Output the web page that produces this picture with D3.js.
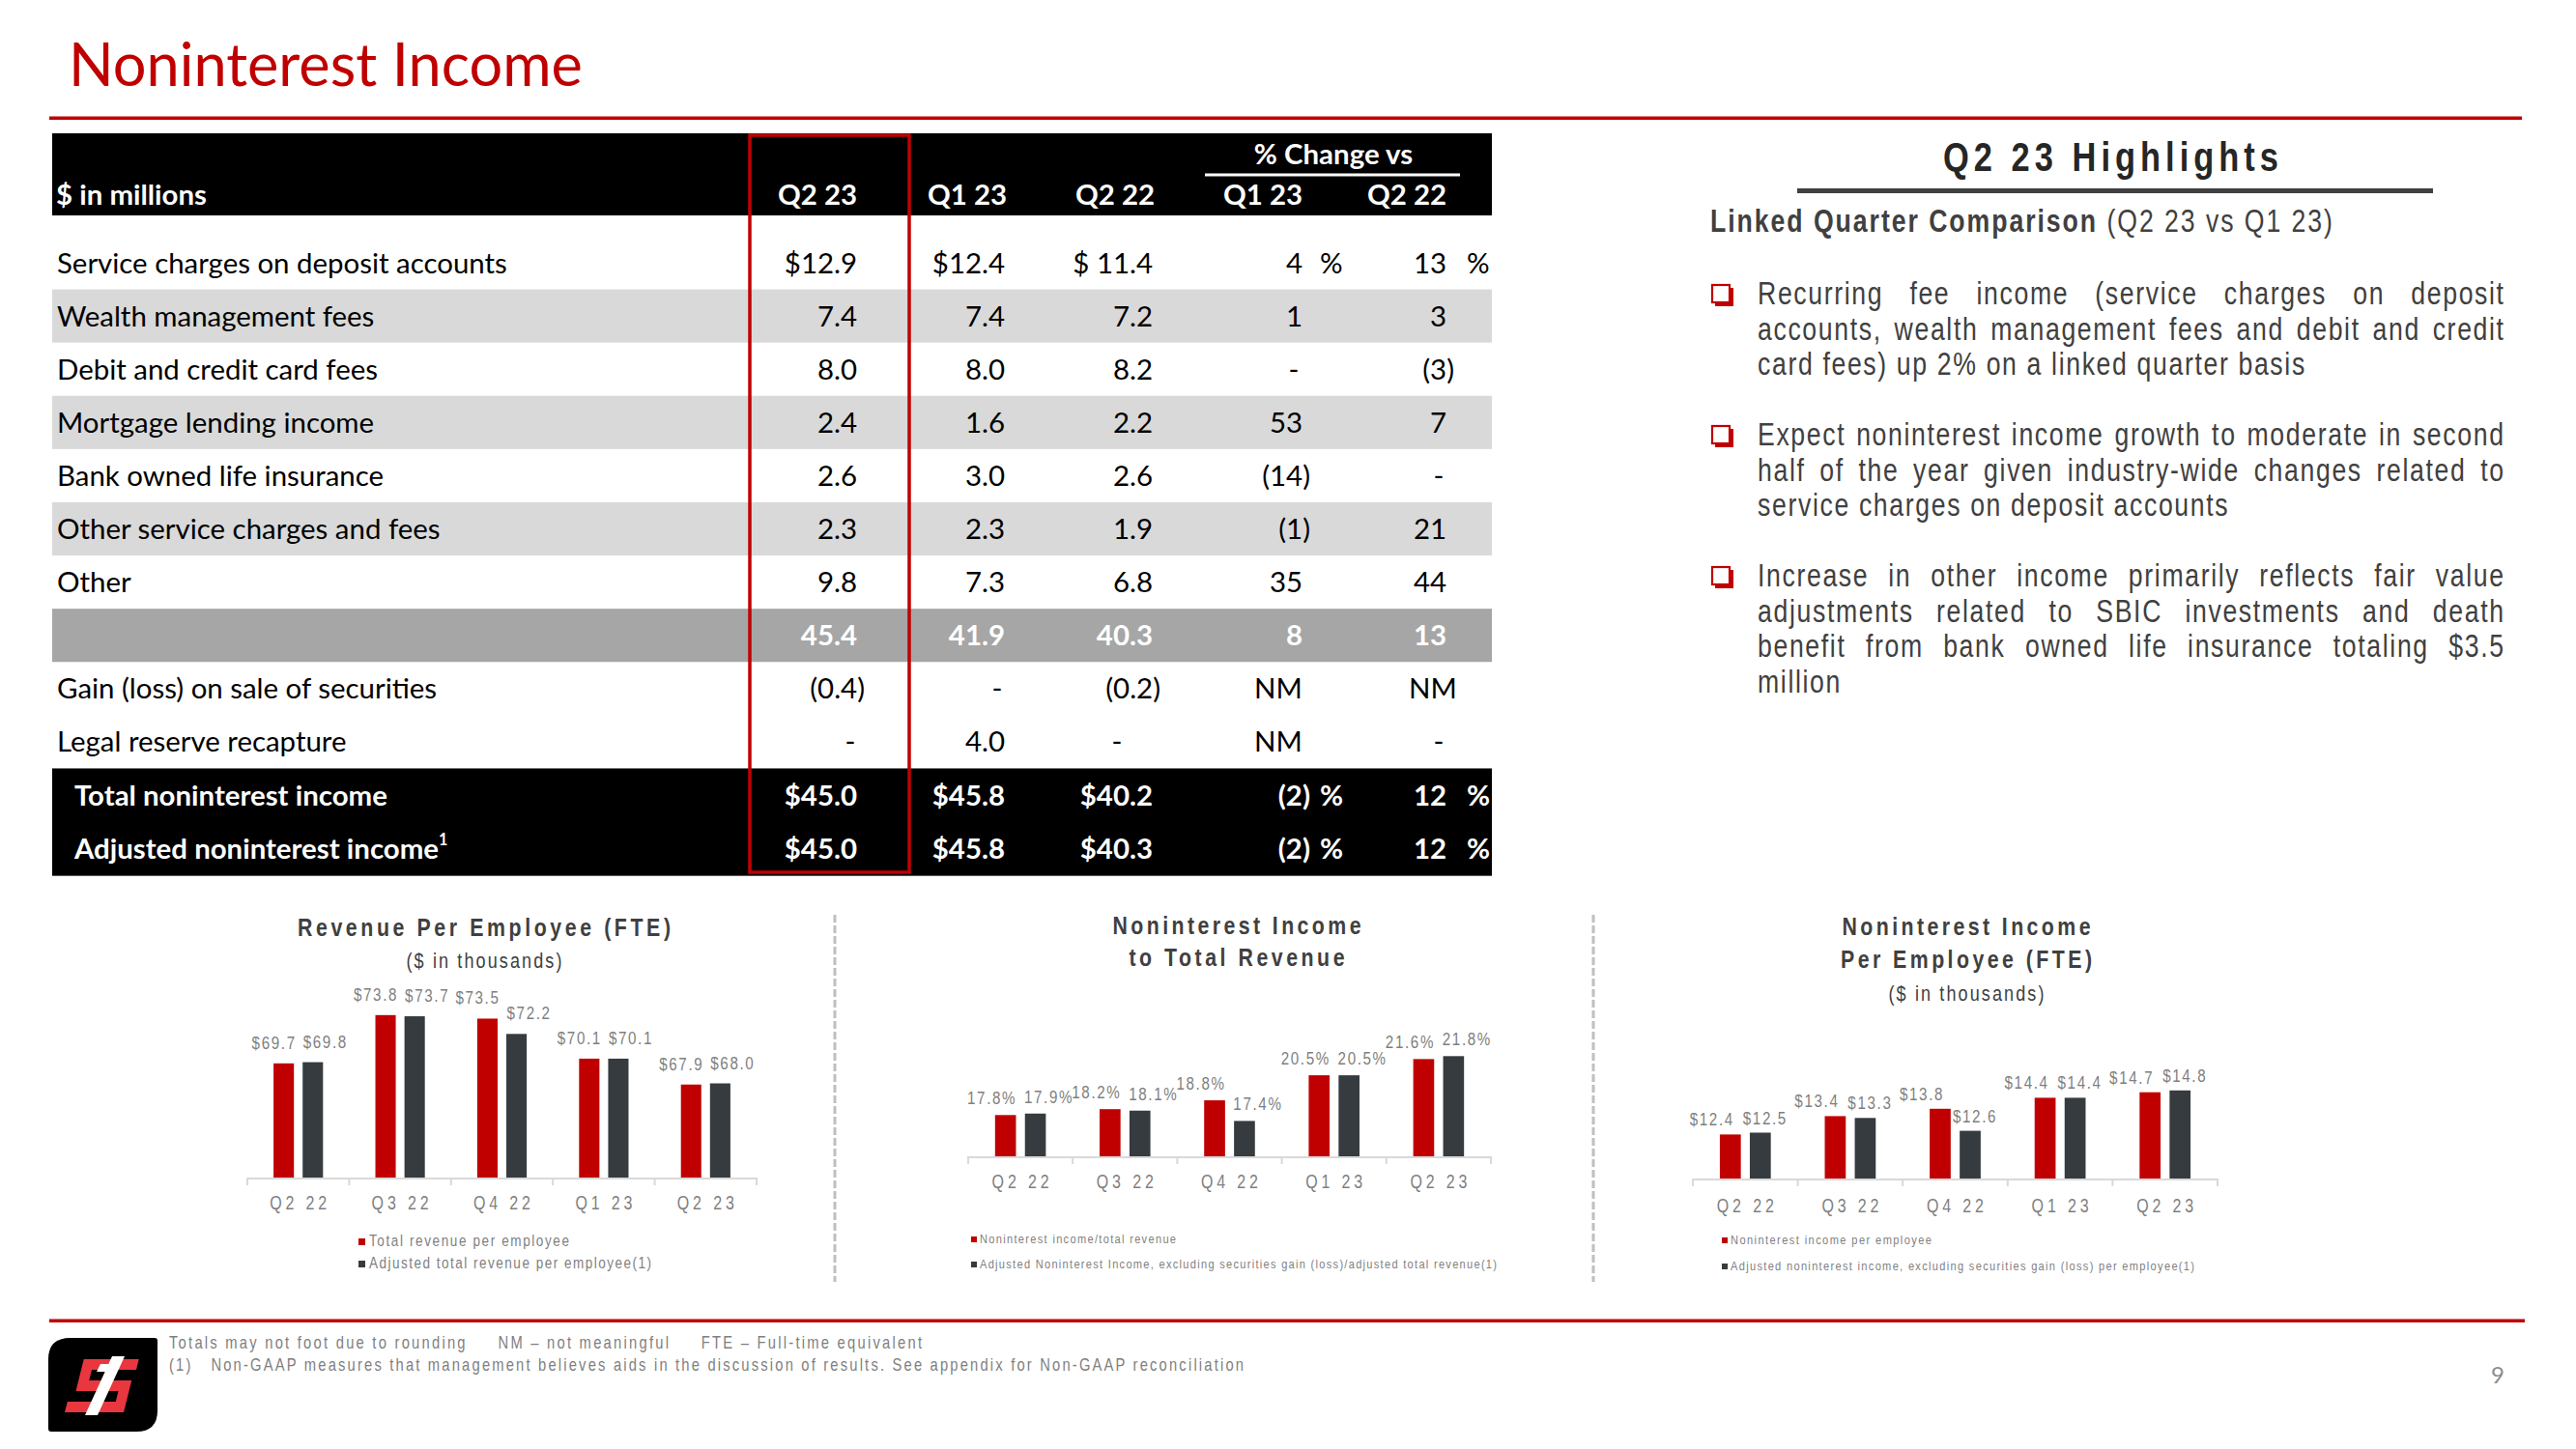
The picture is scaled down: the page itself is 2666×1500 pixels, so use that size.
<!DOCTYPE html>
<html><head><meta charset="utf-8">
<script src="https://cdn.jsdelivr.net/npm/d3@7"></script>
<style>
body{margin:0;background:#fff;}
svg{display:block;}
text{white-space:pre;}
</style></head><body>
<svg id="c" width="2666" height="1500"></svg>
<script>
// ---------------- DATA ----------------
const slideTitle = "Noninterest Income";
const tableRowLabels = ["Service charges on deposit accounts","Wealth management fees","Debit and credit card fees",
  "Mortgage lending income","Bank owned life insurance","Other service charges and fees","Other","",
  "Gain (loss) on sale of securities","Legal reserve recapture","Total noninterest income","Adjusted noninterest income"];
const tableColHeaders = ["Q2 23","Q1 23","Q2 22","Q1 23","Q2 22"];
const valQ223 = ["$12.9","7.4","8.0","2.4","2.6","2.3","9.8","45.4","(0.4)","-","$45.0","$45.0"];
const valQ123 = ["$12.4","7.4","8.0","1.6","3.0","2.3","7.3","41.9","-","4.0","$45.8","$45.8"];
const valQ222 = ["$ 11.4","7.2","8.2","2.2","2.6","1.9","6.8","40.3","(0.2)","-","$40.2","$40.3"];
const chgVsQ123 = ["4","1","-","53","(14)","(1)","35","8","NM","NM","(2)","(2)"];
const chgVsQ222 = ["13","3","(3)","7","-","21","44","13","NM","-","12","12"];
const pctSignRows = [0,10,11];

const quarters = ["Q2 22","Q3 22","Q4 22","Q1 23","Q2 23"];
const revPerEmp = [69.7,73.8,73.5,70.1,67.9];
const adjRevPerEmp = [69.8,73.7,72.2,70.1,68.0];
const nonintToRev = [17.8,18.2,18.8,20.5,21.6];
const adjNonintToRev = [17.9,18.1,17.4,20.5,21.8];
const nonintPerEmp = [12.4,13.4,13.8,14.4,14.7];
const adjNonintPerEmp = [12.5,13.3,12.6,14.4,14.8];
const legend1 = ["Total revenue per employee","Adjusted total revenue per employee(1)"];
const legend2 = ["Noninterest income/total revenue","Adjusted Noninterest Income, excluding securities gain (loss)/adjusted total revenue(1)"];
const legend3 = ["Noninterest income per employee","Adjusted noninterest income, excluding securities gain (loss) per employee(1)"];

const hlTitle = "Q2 23 Highlights";
const hlHeadBold = "Linked Quarter Comparison";
const hlHeadRest = " (Q2 23 vs Q1 23)";
const hlParagraphs = [
  ["Recurring fee income (service charges on deposit","accounts, wealth management fees and debit and credit","card fees) up 2% on a linked quarter basis"],
  ["Expect noninterest income growth to moderate in second","half of the year given industry-wide changes related to","service charges on deposit accounts"],
  ["Increase in other income primarily reflects fair value","adjustments related to SBIC investments and death","benefit from bank owned life insurance totaling $3.5","million"]
];
const footnotes = ["Totals may not foot due to rounding     NM \u2013 not meaningful     FTE \u2013 Full-time equivalent",
  "(1)   Non-GAAP measures that management believes aids in the discussion of results. See appendix for Non-GAAP reconciliation"];
const pageNumber = "9";

// ---------------- SETUP ----------------
const svg = d3.select("#c");
const TF = "Lato, Carlito, Calibri, 'Open Sans', sans-serif";
const NF = "'Liberation Sans', Arial, sans-serif";
const SX = 0.82; // horizontal condensing to mimic a narrow face
const RED = "#C00000", DARK = "#363B3F", GRAY = "#7F7F7F", TXT = "#404040";

function measure(text, fam, size, weight){
  const t = svg.append("text").attr("font-family",fam).attr("font-size",size).attr("font-weight",weight||400).text(text);
  const w = t.node().getComputedTextLength(); t.remove(); return w;
}
function fitSize(text, fam, weight, ls, target, base){
  const w0 = measure(text, fam, base, weight);
  return (target - text.length*ls) / (w0/base);
}
// condensed text helper
function ntext(parent, x, y, str, o){
  o = o || {};
  const t = parent.append("text").attr("transform",`translate(${x},${y}) scale(${SX},1)`)
    .attr("font-family",NF).attr("font-size",o.size||16).attr("font-weight",o.weight||400)
    .attr("fill",o.fill||TXT).attr("text-anchor",o.anchor||"start");
  if (o.ls) t.style("letter-spacing",o.ls+"px");
  if (o.len) t.attr("textLength",o.len/SX).attr("lengthAdjust","spacing");
  if (str !== null) t.text(str);
  return t;
}

// ---------------- TITLE ----------------
const titleSize = fitSize(slideTitle, TF, 400, 0, 532, 60);
svg.append("text").attr("x",71).attr("y",89).attr("font-family",TF).attr("font-size",titleSize)
  .attr("fill",RED).text(slideTitle);
svg.append("rect").attr("x",51).attr("y",120.5).attr("width",2559).attr("height",3.5).attr("fill",RED);

// ---------------- TABLE ----------------
const tSize = fitSize(tableRowLabels[0], TF, 400, 0, 466, 28);
const tbl = svg.append("g").attr("font-family",TF).attr("font-size",tSize);
const rowY = d3.scaleLinear().domain([0,1]).range([272, 327.1]);
const rowH = 55.1;
const TX0 = 54, TX1 = 1544;
tbl.append("rect").attr("x",TX0).attr("y",138).attr("width",TX1-TX0).attr("height",85).attr("fill","#000");
tableRowLabels.forEach((lab,i)=>{
  let fill = null;
  if (i===1||i===3||i===5) fill = "#D9D9D9";
  if (i===7) fill = "#A6A6A6";
  if (fill) tbl.append("rect").attr("x",TX0).attr("y",rowY(i)-rowH/2).attr("width",TX1-TX0).attr("height",rowH).attr("fill",fill);
});
tbl.append("rect").attr("x",TX0).attr("y",rowY(10)-rowH/2).attr("width",TX1-TX0).attr("height",rowH*2+1).attr("fill","#000");

tbl.append("text").attr("x",1380).attr("y",170).attr("text-anchor","middle").attr("font-weight",700).attr("fill","#fff").text("% Change vs");
tbl.append("rect").attr("x",1247).attr("y",179.5).attr("width",264).attr("height",3).attr("fill","#fff");
tbl.append("text").attr("x",58).attr("y",212).attr("font-weight",700).attr("fill","#fff").text("$ in millions");
const cols = [
  {vals:valQ223, right:887, dash:880, center:846},
  {vals:valQ123, right:1040, dash:1032, center:1001},
  {vals:valQ222, right:1193, dash:1156, center:1154},
  {vals:chgVsQ123, right:1348, dash:1339, center:1307, nm:1323, pct:1366},
  {vals:chgVsQ222, right:1497, dash:1489, center:1456, nm:1483, pct:1518}
];
cols.forEach((c,j)=>{
  tbl.append("text").attr("x",c.center).attr("y",212).attr("text-anchor","middle").attr("font-weight",700)
    .attr("fill","#fff").text(tableColHeaders[j]);
});
const dy = tSize*0.36;
tableRowLabels.forEach((lab,i)=>{
  const white = i>=10 || i===7;
  const bold = white;
  const col = white ? "#fff" : "#000";
  if (lab){
    const t = tbl.append("text").attr("x", i>=10?77:59).attr("y",rowY(i)+dy).attr("fill",col)
      .attr("font-weight",bold?700:400).text(lab);
    if (i===11) t.append("tspan").attr("dy",-tSize*0.45).attr("font-size",tSize*0.55).text("1");
  }
  cols.forEach((c,j)=>{
    const v = c.vals[i];
    let x = c.right, anchor = "end";
    if (v === "-") { x = c.dash; anchor = "middle"; }
    else if (v === "NM") { x = c.nm; anchor = "middle"; }
    else if (v.startsWith("(")) { x = c.right + 8; }
    tbl.append("text").attr("x",x).attr("y",rowY(i)+dy).attr("text-anchor",anchor).attr("fill",col)
      .attr("font-weight",bold?700:400).text(v);
    if (c.pct && pctSignRows.includes(i)){
      tbl.append("text").attr("x",c.pct).attr("y",rowY(i)+dy).attr("fill",col).attr("font-weight",bold?700:400).text("%");
    }
  });
});
svg.append("rect").attr("x",776).attr("y",140).attr("width",165).attr("height",763)
  .attr("fill","none").attr("stroke",RED).attr("stroke-width",3.5);

// ---------------- HIGHLIGHTS ----------------
const HL_LS = 2;
const hlSize = fitSize(hlParagraphs[0][2], NF, 400, HL_LS, 568/SX, 28);
const hl = svg.append("g");
ntext(hl, 2011, 177, hlTitle, {size:42, weight:700, len:347, fill:"#262626"});
hl.append("rect").attr("x",1860).attr("y",195).attr("width",658).attr("height",5).attr("fill","#404040");
const hh = ntext(hl, 1770, 240, null, {size:hlSize, len:644});
hh.append("tspan").attr("font-weight",700).text(hlHeadBold);
hh.append("tspan").text(hlHeadRest);

const HX0 = 1819, HX1 = 2591, lineStep = 36.5;
const paraY = [315, 461, 607];
hlParagraphs.forEach((lines,p)=>{
  const by = paraY[p];
  hl.append("rect").attr("x",1775).attr("y",by-17).attr("width",19).attr("height",19).attr("fill",RED);
  hl.append("rect").attr("x",1772).attr("y",by-20).attr("width",18).attr("height",18).attr("fill","#fff")
    .attr("stroke",RED).attr("stroke-width",2.2);
  lines.forEach((ln,li)=>{
    const y = by + li*lineStep;
    const last = li === lines.length-1;
    if (last){
      ntext(hl, HX0, y, ln, {size:hlSize, ls:HL_LS});
    } else {
      const words = ln.split(" ");
      const ws = words.map(w => (measure(w, NF, hlSize, 400) + w.length*HL_LS)*SX);
      const gap = (HX1 - HX0 - d3.sum(ws) + HL_LS*SX) / (words.length-1);
      let x = HX0;
      words.forEach((w,wi)=>{
        ntext(hl, x, y, w, {size:hlSize, ls:HL_LS});
        x += ws[wi] + gap;
      });
    }
  });
});

// ---------------- CHARTS ----------------
function drawChart(cfg){
  const g = svg.append("g");
  const x = d3.scaleBand().domain(quarters).range([cfg.x0,cfg.x1]).paddingInner(0).paddingOuter(0);
  const xs = d3.scaleBand().domain([0,1]).range([0,x.bandwidth()]).paddingInner(0.3).paddingOuter(0.9);
  const y = d3.scaleLinear().domain([cfg.yMin,cfg.yMax]).range([cfg.baseY,cfg.topY]);
  cfg.titles.forEach(t=>{
    ntext(g, cfg.cx - t.w/2, t.y, t.text, {size:t.bold?26:22, weight:t.bold?700:400, len:t.w, fill:TXT});
  });
  const series = [{vals:cfg.red,color:RED,dx:cfg.dxR},{vals:cfg.dark,color:DARK,dx:cfg.dxD}];
  series.forEach((s,si)=>{
    g.selectAll(null).data(s.vals).join("rect")
      .attr("x",(d,i)=>x(quarters[i])+xs(si)).attr("width",xs.bandwidth())
      .attr("y",d=>y(d)).attr("height",d=>cfg.baseY-y(d)).attr("fill",s.color);
    s.vals.forEach((d,i)=>{
      ntext(g, x(quarters[i])+xs(si)+xs.bandwidth()/2+s.dx, y(d)-cfg.gap, cfg.fmt(d),
        {size:18.5, ls:2, anchor:"middle", fill:GRAY});
    });
  });
  const ax = g.append("g").attr("transform",`translate(0,${cfg.baseY})`)
    .call(d3.axisBottom(x).tickSize(0).tickPadding(cfg.axisLabelY-cfg.baseY));
  ax.select(".domain").remove();
  ax.selectAll("text").attr("font-family",NF).attr("font-size",19.5).attr("fill",GRAY)
    .attr("dy",0).attr("transform",`scale(${SX},1)`).attr("textLength",59/SX).attr("lengthAdjust","spacing");
  g.append("line").attr("x1",cfg.x0).attr("x2",cfg.x1).attr("y1",cfg.baseY+1).attr("y2",cfg.baseY+1)
    .attr("stroke","#D9D9D9").attr("stroke-width",2);
  d3.range(quarters.length+1).forEach(i=>{
    const xx = cfg.x0 + i*x.step();
    g.append("line").attr("x1",xx).attr("x2",xx).attr("y1",cfg.baseY).attr("y2",cfg.baseY+8)
      .attr("stroke","#D9D9D9").attr("stroke-width",2);
  });
  cfg.legend.labels.forEach((lab,i)=>{
    const ly = cfg.legend.ys[i];
    g.append("rect").attr("x",cfg.legend.sqX).attr("y",ly-cfg.legend.sq-1).attr("width",cfg.legend.sq)
      .attr("height",cfg.legend.sq).attr("fill",i===0?RED:DARK);
    ntext(g, cfg.legend.tx, ly, lab, {size:cfg.legend.size, len:cfg.legend.ws[i], fill:GRAY});
  });
}

drawChart({x0:256,x1:783,baseY:1219,yMin:60,yMax:76,topY:1024,red:revPerEmp,dark:adjRevPerEmp,
  fmt:d=>"$"+d.toFixed(1),dxR:-10,dxD:13,gap:15,axisLabelY:1252,cx:501,
  titles:[{text:"Revenue Per Employee (FTE)",y:969,w:386,bold:true},{text:"($ in thousands)",y:1002,w:161}],
  legend:{labels:legend1,sqX:371,tx:382,ys:[1290,1313],ws:[207,292],size:16.5,sq:7}});
drawChart({x0:1002,x1:1543,baseY:1197,yMin:15,yMax:23,topY:1075,red:nonintToRev,dark:adjNonintToRev,
  fmt:d=>d.toFixed(1)+"%",dxR:-14,dxD:14,gap:11,axisLabelY:1230,cx:1280,
  titles:[{text:"Noninterest Income",y:967,w:257,bold:true},{text:"to Total Revenue",y:1000,w:223,bold:true}],
  legend:{labels:legend2,sqX:1005,tx:1014,ys:[1287,1313],ws:[203,535],size:13.5,sq:6}});
drawChart({x0:1752,x1:2295,baseY:1220,yMin:10,yMax:16,topY:1106,red:nonintPerEmp,dark:adjNonintPerEmp,
  fmt:d=>"$"+d.toFixed(1),dxR:-19,dxD:5,gap:9,axisLabelY:1255,cx:2035,
  titles:[{text:"Noninterest Income",y:968,w:257,bold:true},{text:"Per Employee (FTE)",y:1002,w:260,bold:true},
          {text:"($ in thousands)",y:1036,w:161}],
  legend:{labels:legend3,sqX:1782,tx:1791,ys:[1288,1315],ws:[208,480],size:13.5,sq:6}});

[864,1649].forEach(xx=>{
  svg.append("line").attr("x1",xx).attr("x2",xx).attr("y1",947).attr("y2",1327)
    .attr("stroke","#BFBFBF").attr("stroke-width",3).attr("stroke-dasharray","8 3");
});

// ---------------- FOOTER ----------------
svg.append("rect").attr("x",51).attr("y",1365.5).attr("width",2562).attr("height",3.5).attr("fill",RED);
ntext(svg, 175, 1396, footnotes[0], {size:18, len:779, fill:GRAY});
ntext(svg, 175, 1419, footnotes[1], {size:18, len:1112, fill:GRAY});
svg.append("text").attr("x",2585).attr("y",1432).attr("text-anchor","middle").attr("font-family",TF)
  .attr("font-size",24).attr("fill","#8C8C8C").text(pageNumber);

const logo = svg.append("g");
logo.append("path").attr("d","M73,1385 H160 Q163,1385 163,1388 V1460 Q163,1482 141,1482 H53 Q50,1482 50,1479 V1407 Q50,1385 73,1385 Z").attr("fill","#000");
logo.append("path").attr("d","M80,1407 H137 V1418 H91 V1429 H135 V1462 H74 V1451 H124 V1440 H80 Z")
  .attr("fill","#E8373E").attr("transform","translate(0,1434) skewX(-14) translate(0,-1434)");
logo.append("path").attr("d","M116,1404 H129 L101,1465 H88 Z").attr("fill","#fff");
logo.append("path").attr("d","M104,1412 H118 L115,1420 H100 Z").attr("fill","#fff");
</script>
</body></html>
